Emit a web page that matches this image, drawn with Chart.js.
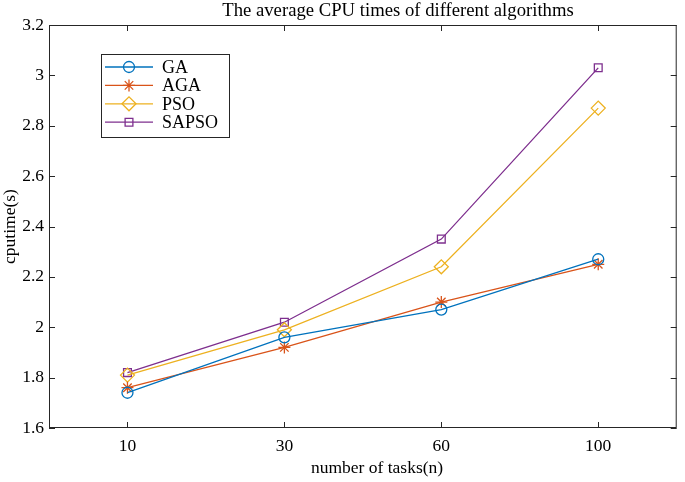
<!DOCTYPE html>
<html>
<head>
<meta charset="utf-8">
<script src="https://cdn.jsdelivr.net/npm/chart.js@4.4.1/dist/chart.umd.min.js"></script>
<style>
  html, body { margin: 0; padding: 0; background: #fff; }
  canvas { display: block; }
</style>
</head>
<body>
<canvas id="cpu" width="685" height="482"></canvas>
<script>
const taskLabels = ['10', '30', '60', '100']
const gaTimes = [1.74, 1.96, 2.07, 2.27]
const agaTimes = [1.76, 1.92, 2.10, 2.25]
const psoTimes = [1.81, 1.99, 2.24, 2.87]
const sapsoTimes = [1.82, 2.02, 2.35, 3.03]
const yTicks = [1.6, 1.8, 2.0, 2.2, 2.4, 2.6, 2.8, 3.0, 3.2]

const serif = "'Liberation Serif', 'Times New Roman', serif"
const axisColor = '#262626'

const series = [
  { label: 'GA', data: gaTimes, color: '#0072BD', style: 'circle', radius: 5.5 },
  { label: 'AGA', data: agaTimes, color: '#D95319', style: 'star', radius: 6 },
  { label: 'PSO', data: psoTimes, color: '#EDB120', style: 'rectRot', radius: 7 },
  { label: 'SAPSO', data: sapsoTimes, color: '#7E2F8E', style: 'rect', radius: 5.5 }
]

// box, inward ticks, titles and legend the way matlab draws them
const matlabFrame = {
  id: 'matlabFrame',
  afterDraw(chart) {
    const { ctx, chartArea: a, scales } = chart
    ctx.save()
    ctx.strokeStyle = axisColor
    ctx.lineWidth = 1
    ctx.strokeRect(a.left + 0.5, a.top + 0.5, a.right - a.left - 1, a.bottom - a.top - 1)

    ctx.beginPath()
    scales.x.ticks.forEach((t, i) => {
      const x = Math.round(scales.x.getPixelForTick(i)) + 0.5
      ctx.moveTo(x, a.bottom); ctx.lineTo(x, a.bottom - 6)
      ctx.moveTo(x, a.top); ctx.lineTo(x, a.top + 6)
    })
    yTicks.forEach(v => {
      const y = Math.round(scales.y.getPixelForValue(v)) + 0.5
      ctx.moveTo(a.left, y); ctx.lineTo(a.left + 6, y)
      ctx.moveTo(a.right, y); ctx.lineTo(a.right - 6, y)
    })
    ctx.stroke()

    // titles
    ctx.fillStyle = '#000'
    ctx.font = '18.7px ' + serif
    ctx.textAlign = 'center'
    ctx.textBaseline = 'middle'
    ctx.fillText('The average CPU times of different algorithms', 398, 11)
    ctx.font = '17.5px ' + serif
    ctx.fillText('number of tasks(n)', 377, 468)

    // legend
    const lx = a.left + 52, ly = a.top + 29, lw = 128, lh = 83
    ctx.fillStyle = '#fff'
    ctx.fillRect(lx, ly, lw, lh)
    ctx.strokeStyle = axisColor
    ctx.strokeRect(lx + 0.5, ly + 0.5, lw, lh)
    series.forEach((s, i) => {
      const y = ly + 13 + i * 18.4
      ctx.strokeStyle = s.color
      ctx.lineWidth = 1.3
      ctx.beginPath()
      ctx.moveTo(lx + 4, y); ctx.lineTo(lx + 52, y)
      ctx.stroke()
      ctx.fillStyle = 'rgba(0,0,0,0)'
      Chart.helpers.drawPoint(ctx, { pointStyle: s.style, radius: s.radius, borderWidth: 1.3, rotation: 0 }, lx + 28, y)
      ctx.fillStyle = '#000'
      ctx.textAlign = 'left'
      ctx.font = '18px ' + serif
      ctx.fillText(s.label, lx + 61, y + 1)
    })
    ctx.restore()
  }
}

new Chart(document.querySelector('#cpu'), {
  type: 'line',
  plugins: [matlabFrame],
  data: {
    labels: taskLabels,
    datasets: series.map(s => ({
      label: s.label,
      data: s.data,
      borderColor: s.color,
      borderWidth: 1.3,
      pointStyle: s.style,
      pointRadius: s.radius,
      pointBorderColor: s.color,
      pointBackgroundColor: 'rgba(0,0,0,0)',
      pointBorderWidth: 1.3,
      tension: 0,
      fill: false
    }))
  },
  options: {
    responsive: false,
    animation: false,
    devicePixelRatio: 1,
    layout: { padding: { left: 0, top: 25, right: 1, bottom: 0 } },
    plugins: {
      legend: { display: false },
      title: { display: false },
      tooltip: { enabled: false }
    },
    scales: {
      x: {
        type: 'category',
        offset: true,
        grid: { display: false, drawTicks: false },
        border: { display: false },
        ticks: {
          color: '#000',
          padding: 8,
          maxRotation: 0,
          font: { family: serif, size: 17.5 }
        },
        afterFit(scale) { scale.height = 54 }
      },
      y: {
        min: 1.6,
        max: 3.2,
        grid: { display: false, drawTicks: false },
        border: { display: false },
        afterBuildTicks(scale) { scale.ticks = yTicks.map(v => ({ value: v })) },
        ticks: {
          color: '#000',
          padding: 5,
          font: { family: serif, size: 17.5 },
          callback: v => String(+v.toFixed(1))
        },
        title: {
          display: true,
          text: 'cputime(s)',
          color: '#000',
          padding: 0,
          font: { family: serif, size: 17.5 }
        },
        afterFit(scale) { scale.width = 49 }
      }
    }
  }
})
</script>
</body>
</html>
